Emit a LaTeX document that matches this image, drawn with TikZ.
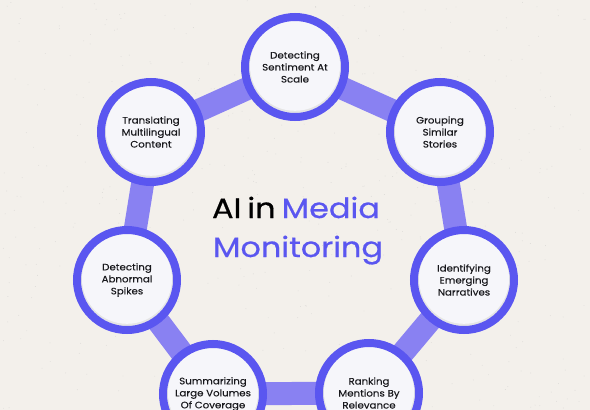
\documentclass[tikz,border=0pt]{standalone}
\usepackage{fontspec}
\setmainfont{Poppins}
\newfontfamily\headfont{Poppins}[FakeStretch=1.14,FakeBold=0.6,WordSpace=0.7]
\newfontfamily\labelfont{Poppins}[FakeStretch=1.1,FakeBold=0.25]
\definecolor{ring}{RGB}{90,86,240}
\definecolor{linkblue}{RGB}{137,129,242}
\definecolor{paper}{RGB}{243,240,235}
\definecolor{disc}{RGB}{246,246,250}
\definecolor{ink}{RGB}{24,24,28}
\pgfdeclarelayer{back}
\pgfsetlayers{back,main}
\tikzset{
  topic/.style={circle, minimum size=100pt, inner sep=0pt, draw=ring, line width=8pt, fill=disc,
    align=center, text=ink, font=\labelfont\fontsize{9.3}{12}\selectfont,
    path picture={\fill[black!10] (path picture bounding box.center) circle (46pt);
      \fill[disc] ([yshift=1.2pt]path picture bounding box.center) circle (45pt);}},
  link/.style={draw=linkblue, line width=23pt, shorten <=-8pt, shorten >=-8pt},
  headline/.style={anchor=base, font=\headfont\fontsize{28}{34}\selectfont}
}
\begin{document}
\begin{tikzpicture}[x=1pt,y=-1pt]
\useasboundingbox (0,0) rectangle (590,410);
\clip (0,0) rectangle (590,410);
\begin{pgfonlayer}{back}
\fill[paper] (0,0) rectangle (590,410);
\pgfmathsetseed{11}
\foreach \k in {1,...,500} \fill[black!30,opacity=0.35] (rnd*590,rnd*410) circle (0.45);
\end{pgfonlayer}
% the seven topics round the ring
\foreach \n/\x/\y/\lbl in {sent/295/67/{Detecting\\Sentiment At\\Scale}, group/440/132/{Grouping\\Similar\\Stories},
  ident/464/280/{Identifying\\Emerging\\Narratives}, rank/369/393/{Ranking\\Mentions By\\Relevance},
  summ/213/394/{Summarizing\\Large Volumes\\Of Coverage}, spike/127/280/{Detecting\\Abnormal\\Spikes},
  transl/151/132/{Translating\\Multilingual\\Content}}
  \node[topic] (\n) at (\x,\y) {\lbl};
\begin{pgfonlayer}{back}
\foreach \a/\b in {sent/group,group/ident,ident/rank,rank/summ,summ/spike,spike/transl,transl/sent}
  \draw[link] (\a) -- (\b);
\end{pgfonlayer}
% title
\node[headline] (title) at (296,218) {AI in \textcolor{ring}{Media}};
\node[headline, text=ring] (subtitle) at (298,257) {Monitoring};
\end{tikzpicture}
\end{document}
